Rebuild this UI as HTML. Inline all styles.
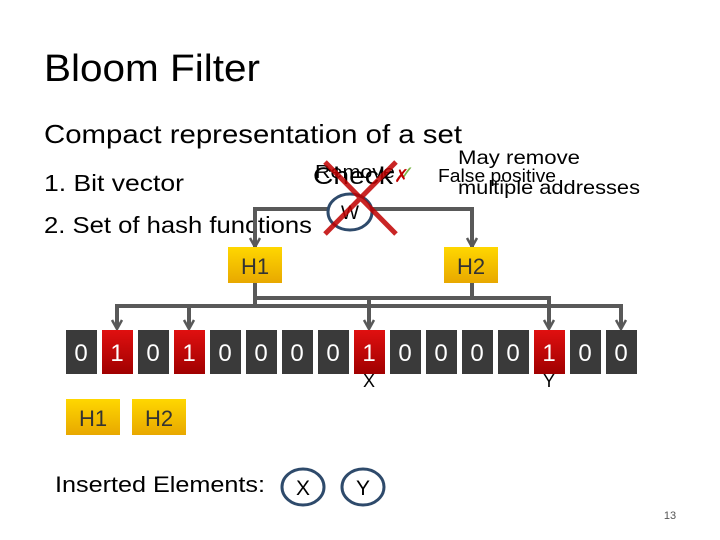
<!DOCTYPE html>
<html><head><meta charset="utf-8"><style>
html,body{margin:0;padding:0;background:#fff}
svg{display:block}
text{font-family:"Liberation Sans","DejaVu Sans",sans-serif}
</style></head><body>
<svg width="720" height="540" viewBox="0 0 720 540" xmlns="http://www.w3.org/2000/svg">
<defs>
<linearGradient id="gy" x1="0" y1="0" x2="0" y2="1"><stop offset="0" stop-color="#ffd700"/><stop offset="1" stop-color="#e8a800"/></linearGradient>
<linearGradient id="gr" x1="0" y1="0" x2="0" y2="1"><stop offset="0" stop-color="#e01010"/><stop offset="1" stop-color="#a00000"/></linearGradient>
</defs>
<text x="44" y="81" font-size="38" fill="#000" textLength="216" lengthAdjust="spacingAndGlyphs">Bloom Filter</text>
<text x="44" y="143" font-size="26" fill="#000" textLength="418" lengthAdjust="spacingAndGlyphs">Compact representation of a set</text>
<text x="44" y="191" font-size="23" fill="#000" textLength="140" lengthAdjust="spacingAndGlyphs">1.  Bit vector</text>
<text x="44" y="233" font-size="23" fill="#000" textLength="268" lengthAdjust="spacingAndGlyphs">2.  Set of hash functions</text>
<g stroke="#595959" stroke-width="4" fill="none">
<path d="M255,247 V209 H472 V247"/>
<path d="M255,283 V306 H117 V328"/>
<path d="M189,306 V328"/>
<path d="M255,306 H621 V328"/>
<path d="M255,298 H549 V328"/>
<path d="M369,298 V328"/>
<path d="M472,283 V298"/>
</g>
<g stroke="#595959" stroke-width="2.5" fill="none">
<path d="M250,238 L255,247 L260,238"/>
<path d="M467,238 L472,247 L477,238"/>
<path d="M112,320 L117,329 L122,320"/>
<path d="M184,320 L189,329 L194,320"/>
<path d="M364,320 L369,329 L374,320"/>
<path d="M544,320 L549,329 L554,320"/>
<path d="M616,320 L621,329 L626,320"/>
</g>
<rect x="228" y="247" width="54" height="36" fill="url(#gy)"/>
<text x="255" y="274" font-size="22" fill="#333" text-anchor="middle">H1</text>
<rect x="444" y="247" width="54" height="36" fill="url(#gy)"/>
<text x="471" y="274" font-size="22" fill="#333" text-anchor="middle">H2</text>
<ellipse cx="350" cy="212" rx="22" ry="18" fill="#fff" stroke="#2e4a6b" stroke-width="3"/>
<text x="350" y="219" font-size="19" text-anchor="middle" fill="#000">W</text>
<text x="313" y="184" font-size="24" fill="#000" textLength="80" lengthAdjust="spacingAndGlyphs">Check</text>
<text x="315" y="178" font-size="18" fill="#000" textLength="80" lengthAdjust="spacingAndGlyphs">Remove</text>
<text x="398" y="180" font-size="20" fill="#7ab648">✓</text>
<text x="394" y="182" font-size="18" fill="#c00000">✗</text>
<text x="438" y="182" font-size="18" fill="#000" textLength="118" lengthAdjust="spacingAndGlyphs">False positive</text>
<text x="458" y="164" font-size="19" fill="#000" textLength="122" lengthAdjust="spacingAndGlyphs">May remove</text>
<text x="458" y="194" font-size="19" fill="#000" textLength="182" lengthAdjust="spacingAndGlyphs">multiple addresses</text>
<g stroke="#c00000" stroke-width="5" opacity="0.85">
<line x1="325" y1="162" x2="396" y2="234"/><line x1="396" y1="162" x2="325" y2="234"/>
</g>
<g font-size="24" text-anchor="middle" fill="#fff">
<rect x="66" y="330" width="31" height="44" fill="#3a3a3a"/><text x="81" y="361">0</text>
<rect x="102" y="330" width="31" height="44" fill="url(#gr)"/><text x="117" y="361">1</text>
<rect x="138" y="330" width="31" height="44" fill="#3a3a3a"/><text x="153" y="361">0</text>
<rect x="174" y="330" width="31" height="44" fill="url(#gr)"/><text x="189" y="361">1</text>
<rect x="210" y="330" width="31" height="44" fill="#3a3a3a"/><text x="225" y="361">0</text>
<rect x="246" y="330" width="31" height="44" fill="#3a3a3a"/><text x="261" y="361">0</text>
<rect x="282" y="330" width="31" height="44" fill="#3a3a3a"/><text x="297" y="361">0</text>
<rect x="318" y="330" width="31" height="44" fill="#3a3a3a"/><text x="333" y="361">0</text>
<rect x="354" y="330" width="31" height="44" fill="url(#gr)"/><text x="369" y="361">1</text>
<rect x="390" y="330" width="31" height="44" fill="#3a3a3a"/><text x="405" y="361">0</text>
<rect x="426" y="330" width="31" height="44" fill="#3a3a3a"/><text x="441" y="361">0</text>
<rect x="462" y="330" width="31" height="44" fill="#3a3a3a"/><text x="477" y="361">0</text>
<rect x="498" y="330" width="31" height="44" fill="#3a3a3a"/><text x="513" y="361">0</text>
<rect x="534" y="330" width="31" height="44" fill="url(#gr)"/><text x="549" y="361">1</text>
<rect x="570" y="330" width="31" height="44" fill="#3a3a3a"/><text x="585" y="361">0</text>
<rect x="606" y="330" width="31" height="44" fill="#3a3a3a"/><text x="621" y="361">0</text>
</g>
<text x="369" y="387" font-size="18" text-anchor="middle" fill="#000">X</text>
<text x="549" y="387" font-size="18" text-anchor="middle" fill="#000">Y</text>
<rect x="66" y="399" width="54" height="36" fill="url(#gy)"/>
<text x="93" y="411" dy="15" font-size="22" fill="#333" text-anchor="middle">H1</text>
<rect x="132" y="399" width="54" height="36" fill="url(#gy)"/>
<text x="159" y="411" dy="15" font-size="22" fill="#333" text-anchor="middle">H2</text>
<text x="55" y="492" font-size="22" fill="#000" textLength="210" lengthAdjust="spacingAndGlyphs">Inserted Elements:</text>
<ellipse cx="303" cy="487" rx="21" ry="18" fill="#fff" stroke="#2e4a6b" stroke-width="3"/>
<text x="303" y="495" font-size="21" text-anchor="middle" fill="#000">X</text>
<ellipse cx="363" cy="487" rx="21" ry="18" fill="#fff" stroke="#2e4a6b" stroke-width="3"/>
<text x="363" y="495" font-size="21" text-anchor="middle" fill="#000">Y</text>
<text x="670" y="519" font-size="11" text-anchor="middle" fill="#555">13</text>
</svg>
</body></html>
